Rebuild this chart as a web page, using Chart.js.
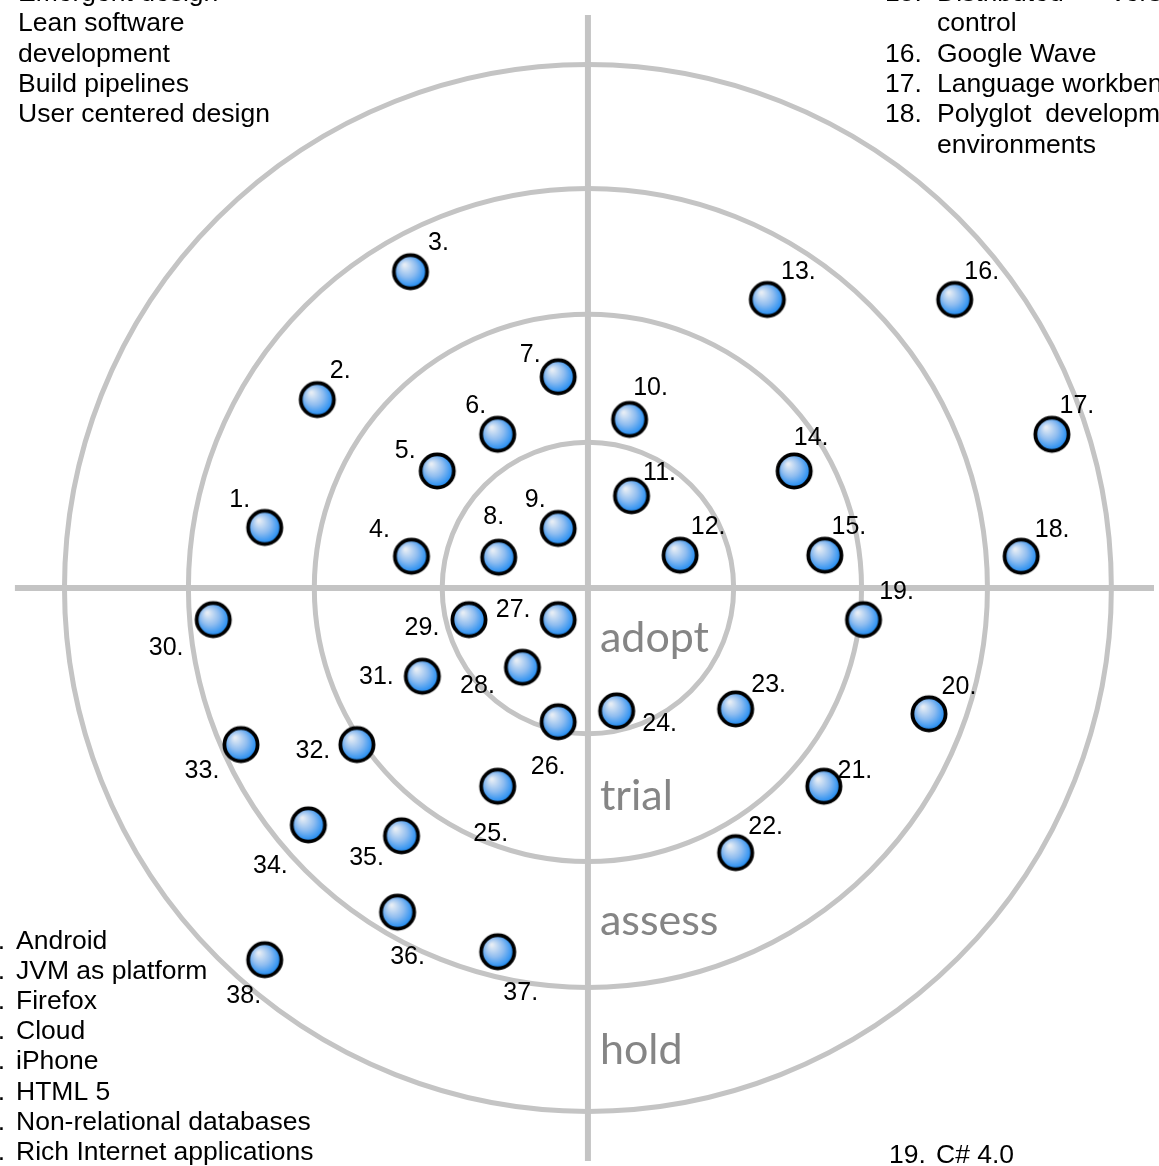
<!DOCTYPE html>
<html>
<head>
<meta charset="utf-8">
<script src="https://cdn.jsdelivr.net/npm/chart.js@4.4.1/dist/chart.umd.min.js"></script>
<style>
  html, body { margin: 0; padding: 0; background: #ffffff; overflow: hidden; }
  canvas { display: block; }
</style>
</head>
<body>
<canvas id="radar" width="1159" height="1166"></canvas>
<script>
//Blip numbers and where each one sits on the radar (centre of the radar is 0,0)
const blipNumbers = [
  1, 2, 3, 4, 5, 6, 7, 8, 9, 10, 11, 12, 13, 14, 15, 16, 17, 18, 19,
  20, 21, 22, 23, 24, 25, 26, 27, 28, 29, 30, 31, 32, 33, 34, 35, 36, 37, 38,
];
const blipX = [
  -326, -273, -179, -178, -152, -91, -30, -90, -30, 42, 44, 93, 181, 208, 239, 370, 468, 437, 278,
  344, 238, 149, 149, 29, -91, -30, -30, -66, -120, -378, -167, -233, -350, -282, -188, -192, -91, -326,
];
const blipY = [
  61, 190, 319, 32, 118, 155, 213, 31, 60, 170, 93, 33, 291, 118, 33, 291, 155, 32, -32,
  -127, -200, -267, -122, -124, -200, -135, -32, -80, -32, -32, -89, -158, -158, -239, -250, -327, -367, -375,
];

//Rings of the radar
const ringRadius = [147, 276, 403, 528];
const ringNames = ["adopt", "trial", "assess", "hold"];

//Legend texts around the radar
const techniqueLines = ["Emergent design", "Lean software", "development", "Build pipelines", "User centered design"];
const toolLines = [
  ["15.", "Distributed version", true],
  ["", "control", false],
  ["16.", "Google Wave", false],
  ["17.", "Language workbench", false],
  ["18.", "Polyglot development", true],
  ["", "environments", false],
];
const platformLines = [
  "Android", "JVM as platform", "Firefox", "Cloud", "iPhone", "HTML 5",
  "Non-relational databases", "Rich Internet applications",
];
const languageLines = [["19.", "C# 4.0"]];

//where the number sits next to each blip (pixels from blip centre)
const labelDX = [
  -25, 23, 28, -32, -32, -22, -28, -5, -23, 21, 28, 28, 31, 17, 24, 27, 25, 31, 33,
  30, 31, 30, 33, 43, -7, -10, -45, -45, -47, -47, -46, -44, -39, -38, -35, 10, 23, -21,
];
const labelDY = [
  -27, -28, -29, -26, -20, -28, -22, -40, -28, -31, -23, -28, -27, -33, -28, -27, -28, -26, -28,
  -27, -15, -26, -24, 13, 48, 45, -10, 19, 8, 28, 1, 7, 27, 41, 22, 45, 41, 36,
];

const gray = "#c4c4c4";
const textFont = "26.5px 'Liberation Sans', Arial, sans-serif";
const numFont = "25px 'Liberation Sans', Arial, sans-serif";

//blip picture: shiny blue ball with black rim
function makeBlip() {
  const c = document.createElement("canvas");
  c.width = 40;
  c.height = 40;
  const g = c.getContext("2d");
  const grad = g.createRadialGradient(14, 13, 1, 19, 19, 18);
  grad.addColorStop(0, "#e6edf5");
  grad.addColorStop(0.5, "#8fbdf0");
  grad.addColorStop(1, "#1486f2");
  g.beginPath();
  g.arc(20, 20, 16.6, 0, Math.PI * 2);
  g.fillStyle = grad;
  g.fill();
  g.lineWidth = 3.8;
  g.strokeStyle = "#000000";
  g.stroke();
  return c;
}

const blips = blipNumbers.map((n, i) => ({ x: blipX[i], y: blipY[i] }));

//rings and ring names, drawn under everything else
const radarRings = {
  id: "radarRings",
  beforeDatasetsDraw(chart) {
    const { ctx, scales } = chart;
    const cx = scales.x.getPixelForValue(0);
    const cy = scales.y.getPixelForValue(0);
    ctx.save();
    ctx.strokeStyle = gray;
    ctx.lineWidth = 5;
    ringRadius.forEach((r) => {
      const pr = scales.x.getPixelForValue(r) - cx;
      ctx.beginPath();
      ctx.arc(cx, cy, pr, 0, Math.PI * 2);
      ctx.stroke();
    });
    //ring names sit just right of the vertical axis, below centre
    const nameDrop = [64, 222, 347, 476];
    ctx.fillStyle = "#858585";
    ctx.font = "43px Lato, 'Open Sans', sans-serif";
    ctx.textAlign = "left";
    ctx.textBaseline = "alphabetic";
    ringNames.forEach((name, i) => {
      ctx.fillText(name, cx + 12, cy + nameDrop[i]);
    });
    ctx.restore();
  },
};

//numbers next to the blips
const blipLabels = {
  id: "blipLabels",
  afterDatasetsDraw(chart) {
    const ctx = chart.ctx;
    const meta = chart.getDatasetMeta(0);
    ctx.save();
    ctx.fillStyle = "#000000";
    ctx.font = numFont;
    ctx.textAlign = "center";
    ctx.textBaseline = "middle";
    meta.data.forEach((pt, i) => {
      ctx.fillText(blipNumbers[i] + ".", pt.x + labelDX[i], pt.y + labelDY[i]);
    });
    ctx.restore();
  },
};

//the text lists in the corners
const cornerLists = {
  id: "cornerLists",
  afterDraw(chart) {
    const ctx = chart.ctx;
    ctx.save();
    ctx.fillStyle = "#000000";
    ctx.font = textFont;
    ctx.textBaseline = "alphabetic";
    ctx.textAlign = "left";
    const step = 30.3;

    //top left
    techniqueLines.forEach((t, i) => ctx.fillText(t, 18, 1 + i * step));

    //top right, justified column
    const colLeft = 937, colRight = 1197;
    toolLines.forEach(([num, text, justify], i) => {
      const y = 1 + i * step;
      if (num) ctx.fillText(num, 885, y);
      const words = text.split(" ");
      if (justify && words.length > 1) {
        const wordsW = words.reduce((s, w) => s + ctx.measureText(w).width, 0);
        const gap = (colRight - colLeft - wordsW) / (words.length - 1);
        let x = colLeft;
        words.forEach((w) => {
          ctx.fillText(w, x, y);
          x += ctx.measureText(w).width + gap;
        });
      } else {
        ctx.fillText(text, colLeft, y);
      }
    });

    //bottom left, numbers fall off the page
    platformLines.forEach((t, i) => {
      const y = 949 + i * 30.1;
      ctx.textAlign = "right";
      ctx.fillText(".", 5, y);
      ctx.textAlign = "left";
      ctx.fillText(t, 16, y);
    });

    //bottom right
    languageLines.forEach(([num, t], i) => {
      const y = 1163 + i * step;
      ctx.fillText(num, 889, y);
      ctx.fillText(t, 936, y);
    });
    ctx.restore();
  },
};

const radar = new Chart(document.getElementById("radar"), {
  type: "scatter",
  data: {
    datasets: [
      {
        label: "blips",
        data: blips,
        pointStyle: makeBlip(),
        order: 0,
      },
      {
        label: "horizontal axis",
        data: [{ x: -578, y: 0 }, { x: 571, y: 0 }],
        showLine: true,
        borderColor: gray,
        borderWidth: 6,
        pointRadius: 0,
        order: 1,
      },
      {
        label: "vertical axis",
        data: [{ x: 0, y: 578 }, { x: 0, y: -578 }],
        showLine: true,
        borderColor: gray,
        borderWidth: 6,
        pointRadius: 0,
        order: 1,
      },
    ],
  },
  options: {
    responsive: false,
    animation: false,
    devicePixelRatio: 1,
    layout: { padding: 0 },
    scales: {
      x: { type: "linear", min: -588, max: 571, display: false },
      y: { type: "linear", min: -578, max: 588, display: false },
    },
    plugins: {
      legend: { display: false },
      tooltip: { enabled: false },
    },
  },
  plugins: [radarRings, blipLabels, cornerLists],
});
</script>
</body>
</html>
